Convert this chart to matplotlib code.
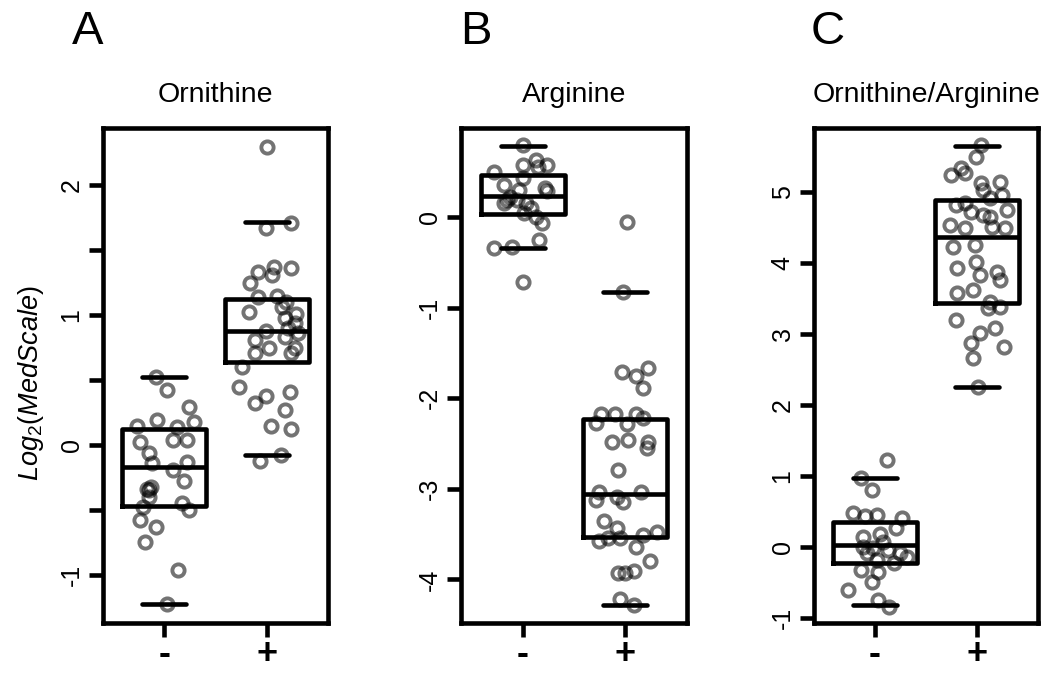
import matplotlib
matplotlib.use("Agg")
import matplotlib.pyplot as plt

plt.rcParams["font.family"] = ["Liberation Sans", "DejaVu Sans"]
plt.rcParams["mathtext.fontset"] = "custom"
plt.rcParams["mathtext.it"] = "Liberation Sans:italic"
plt.rcParams["mathtext.rm"] = "Liberation Sans"

# ---- data ----
groups = ["-", "+"]
panel_letters = ["A", "B", "C"]
titles = ["Ornithine", "Arginine", "Ornithine/Arginine"]

# panel A: Ornithine
orn_minus_x = [0.92, 1.03, 1.24, 1.29, 0.93, 1.12, 0.73, 1.22, 1.08, 0.76, 0.85, 1.22, 0.88, 1.08,
               1.19, 0.87, 0.85, 0.85, 1.17, 1.24, 0.79, 0.76, 0.92, 0.81, 1.13, 1.03, 0.83]
orn_minus_y = [0.52, 0.42, 0.29, 0.18, 0.19, 0.14, 0.15, 0.04, 0.04, 0.02, -0.06, -0.13, -0.14, -0.19,
               -0.28, -0.32, -0.35, -0.40, -0.45, -0.50, -0.48, -0.58, -0.63, -0.75, -0.96, -1.22, -0.34]
orn_plus_x = [2.00, 2.24, 1.99, 2.24, 2.07, 2.05, 1.92, 1.84, 1.92, 2.10, 1.83, 2.15, 2.18, 2.28, 2.21,
              1.99, 1.89, 2.02, 2.18, 2.28, 1.89, 2.24, 1.76, 1.73, 1.99, 1.89, 2.23, 2.18, 2.04, 2.24,
              1.94, 2.14, 2.19, 2.29, 2.31]
orn_plus_y = [2.29, 1.71, 1.67, 1.36, 1.37, 1.31, 1.33, 1.25, 1.14, 1.15, 1.02, 1.06, 0.98, 0.94, 0.90,
              0.88, 0.81, 0.75, 0.83, 0.75, 0.71, 0.71, 0.60, 0.45, 0.38, 0.32, 0.41, 0.27, 0.15, 0.12,
              -0.12, -0.08, 1.10, 1.01, 0.86]

# panel B: Arginine
arg_minus_x = [1.00, 1.00, 1.13, 1.24, 1.15, 0.72, 1.00, 0.82, 0.96, 1.22, 1.24, 0.88, 0.95, 0.82,
               1.03, 1.08, 1.01, 1.13, 1.19, 0.72, 0.90, 1.16, 1.00, 0.85]
arg_minus_y = [0.79, 0.57, 0.63, 0.57, 0.55, 0.50, 0.43, 0.35, 0.30, 0.32, 0.28, 0.22, 0.19, 0.15,
               0.15, 0.10, 0.04, 0.00, -0.07, -0.34, -0.33, -0.25, -0.72, 0.19]
arg_plus_x = [2.02, 1.98, 1.97, 2.10, 2.22, 2.17, 1.76, 1.90, 2.10, 1.71, 2.02, 2.17, 1.87, 2.03, 2.22,
              2.21, 1.93, 1.74, 1.71, 1.92, 1.98, 2.15, 1.79, 1.92, 1.74, 1.83, 1.95, 2.17, 2.31, 2.10,
              2.24, 1.93, 2.00, 2.08, 1.95, 2.08]
arg_plus_y = [-0.06, -0.83, -1.71, -1.76, -1.67, -1.89, -2.18, -2.18, -2.18, -2.27, -2.29, -2.22, -2.48,
              -2.46, -2.48, -2.55, -2.79, -3.03, -3.12, -3.09, -3.15, -3.04, -3.36, -3.43, -3.58, -3.54,
              -3.54, -3.51, -3.48, -3.64, -3.80, -3.93, -3.93, -3.91, -4.22, -4.28]

# panel C: Ornithine/Arginine
ratio_minus_x = [1.12, 0.86, 0.97, 0.78, 0.90, 1.02, 1.26, 1.21, 0.88, 1.05, 1.08, 0.88, 0.98, 1.13,
                 1.24, 1.31, 1.02, 1.19, 0.86, 1.03, 0.97, 0.73, 1.03, 1.14, 0.92]
ratio_minus_y = [1.23, 0.97, 0.80, 0.48, 0.43, 0.45, 0.41, 0.27, 0.14, 0.19, 0.07, 0.00, -0.02, -0.04,
                 -0.09, -0.14, -0.18, -0.23, -0.32, -0.35, -0.49, -0.61, -0.75, -0.85, -0.09]
ratio_plus_x = [2.04, 1.99, 1.84, 1.75, 1.88, 2.23, 2.04, 2.06, 2.25, 2.13, 1.79, 1.88, 1.94, 2.06, 2.13,
                2.30, 1.74, 1.88, 2.15, 2.28, 1.77, 1.98, 1.99, 1.80, 2.03, 2.20, 2.23, 1.80, 1.96, 2.13,
                2.23, 2.11, 1.79, 2.18, 2.03, 1.94, 2.27, 1.96, 2.01]
ratio_plus_y = [5.66, 5.49, 5.34, 5.24, 5.27, 5.14, 5.13, 5.03, 4.96, 4.92, 4.82, 4.85, 4.72, 4.68, 4.65,
                4.75, 4.54, 4.49, 4.51, 4.49, 4.23, 4.25, 4.01, 3.93, 3.83, 3.87, 3.76, 3.58, 3.62, 3.45,
                3.38, 3.37, 3.20, 3.08, 3.01, 2.87, 2.82, 2.66, 2.25]

# box statistics per group: whislo, q1, median, q3, whishi
orn_boxes = [(-1.22, -0.47, -0.17, 0.12, 0.52), (-0.08, 0.64, 0.88, 1.12, 1.72)]
arg_boxes = [(-0.34, 0.03, 0.23, 0.46, 0.78), (-4.28, -3.53, -3.06, -2.23, -0.83)]
ratio_boxes = [(-0.82, -0.22, 0.03, 0.35, 0.97), (2.25, 3.44, 4.37, 4.89, 5.65)]

ylims = [(-1.37, 2.44), (-4.48, 0.98), (-1.07, 5.9)]
yticks = [[-1, -0.5, 0, 0.5, 1, 1.5, 2], [-4, -3, -2, -1, 0], [-1, 0, 1, 2, 3, 4, 5]]
yticklabels = [["-1", "", "0", "", "1", "", "2"], ["-4", "-3", "-2", "-1", "0"],
               ["-1", "0", "1", "2", "3", "4", "5"]]

points = [
    [(orn_minus_x, orn_minus_y), (orn_plus_x, orn_plus_y)],
    [(arg_minus_x, arg_minus_y), (arg_plus_x, arg_plus_y)],
    [(ratio_minus_x, ratio_minus_y), (ratio_plus_x, ratio_plus_y)],
]
boxes = [orn_boxes, arg_boxes, ratio_boxes]

# ---- figure ----
fig = plt.figure(figsize=(10.5, 6.73), dpi=100)
W, H = 1050, 673
ax_left_px = [103, 461, 814]
ax_w_px = [225, 226, 224]
letter_x_px = [88, 476, 828]
lw = 3.3

for i in range(3):
    ax = fig.add_axes([ax_left_px[i] / W, 50 / H, ax_w_px[i] / W, 495 / H])

    stats = []
    for lo, q1, med, q3, hi in boxes[i]:
        stats.append({"whislo": lo, "q1": q1, "med": med, "q3": q3, "whishi": hi, "fliers": []})
    ax.bxp(stats, positions=[1, 2], widths=0.82, capwidths=0.43, showfliers=False,
           boxprops={"linewidth": lw, "color": "black"},
           medianprops={"linewidth": lw, "color": "black", "solid_capstyle": "butt"},
           capprops={"linewidth": lw, "color": "black", "solid_capstyle": "round"},
           whiskerprops={"linewidth": 0},
           manage_ticks=False)

    for xs, ys in points[i]:
        ax.plot(xs, ys, "o", linestyle="none", markersize=8.8, markerfacecolor="none",
                markeredgecolor="black", markeredgewidth=2.8, alpha=0.55, zorder=3)

    ax.set_xlim(0.4, 2.6)
    ax.set_ylim(*ylims[i])
    ax.set_xticks([1, 2])
    ax.set_xticklabels(groups, fontsize=26, fontweight="bold", va="center")
    ax.set_yticks(yticks[i])
    ax.set_yticklabels(yticklabels[i], fontsize=18, rotation=90, va="center")
    ax.tick_params(axis="both", length=10, width=lw)
    ax.tick_params(axis="y", pad=4)
    ax.tick_params(axis="x", pad=13)
    for sp in ax.spines.values():
        sp.set_linewidth(lw)
    ax.set_title(titles[i], fontsize=20.5, pad=19)

    if i == 0:
        ax.set_ylabel(r"$Log_{2}(MedScale)$", fontsize=19.5, labelpad=10)
        ax.yaxis.label.set_y(0.485)

    fig.text(letter_x_px[i] / W, 1 - 32 / H, panel_letters[i], fontsize=34,
             ha="center", va="center")

fig.savefig("out.png", dpi=100)
